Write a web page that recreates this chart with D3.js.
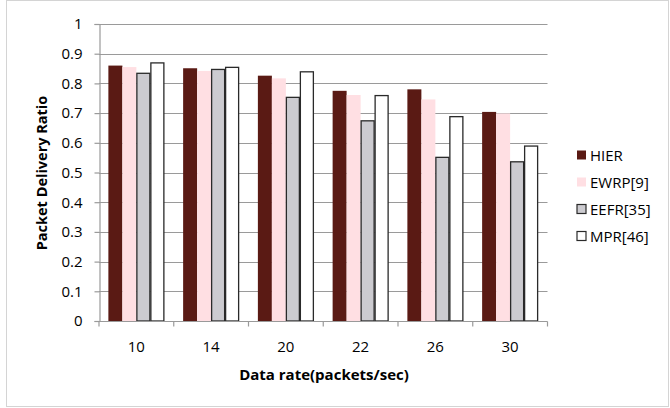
<!DOCTYPE html>
<html>
<head>
<meta charset="utf-8">
<script src="https://cdn.jsdelivr.net/npm/d3@7"></script>
<style>
  html, body { margin: 0; padding: 0; background: #fff; }
  svg { display: block; font-family: "Open Sans", sans-serif; }
</style>
</head>
<body>
<svg id="chart" width="670" height="408"></svg>
<script>
// Data rates on the x axis
const categories = ["10", "14", "20", "22", "26", "30"];
// Protocol names in legend order
const seriesNames = ["HIER", "EWRP[9]", "EEFR[35]", "MPR[46]"];
// Packet delivery ratio per protocol
const hier = [0.860, 0.851, 0.826, 0.775, 0.780, 0.704];
const ewrp = [0.855, 0.842, 0.817, 0.761, 0.746, 0.699];
const eefr = [0.834, 0.847, 0.753, 0.674, 0.551, 0.536];
const mpr  = [0.869, 0.854, 0.839, 0.759, 0.688, 0.589];
const yTicks = [0, 0.1, 0.2, 0.3, 0.4, 0.5, 0.6, 0.7, 0.8, 0.9, 1];

const seriesValues = [hier, ewrp, eefr, mpr];
const fills = ["#5a1a14", "#ffdfe3", "#cccbd0", "#ffffff"];
const strokes = ["none", "none", "#2a2a2a", "#2a2a2a"];

const svg = d3.select("#chart");

// outer chart frame
svg.append("rect")
  .attr("x", 6.5).attr("y", 0.5).attr("width", 662).attr("height", 406)
  .attr("fill", "none").attr("stroke", "#d4d4d4");

const plot = { left: 99, right: 547.5, top: 24, bottom: 321 };

const x = d3.scaleBand().domain(categories).range([plot.left, plot.right])
  .paddingInner(0).paddingOuter(0);
const xi = d3.scaleBand().domain(seriesNames).range([0, x.bandwidth()])
  .paddingInner(0).paddingOuter(0.67);
const y = d3.scaleLinear().domain([0, 1]).range([plot.bottom, plot.top]);

// horizontal gridlines
svg.append("g").selectAll("line").data(yTicks.slice(1)).join("line")
  .attr("x1", plot.left).attr("x2", plot.right)
  .attr("y1", d => Math.round(y(d)) + 0.5).attr("y2", d => Math.round(y(d)) + 0.5)
  .attr("stroke", "#9a9a9a").attr("stroke-width", 1.2);

// bars
const groups = svg.append("g").selectAll("g").data(categories).join("g")
  .attr("transform", c => `translate(${x(c)},0)`);
groups.selectAll("rect")
  .data((c, i) => seriesNames.map((s, k) => ({ s, k, v: seriesValues[k][i] })))
  .join("rect")
  .attr("x", d => xi(d.s) + (d.k >= 2 ? 0.5 : 0))
  .attr("width", d => xi.bandwidth() - (d.k >= 2 ? 1 : 0))
  .attr("y", d => y(d.v))
  .attr("height", d => plot.bottom - y(d.v))
  .attr("fill", d => fills[d.k])
  .attr("stroke", d => strokes[d.k])
  .attr("stroke-width", 1.3);

// y axis
const yAxis = d3.axisLeft(y).tickValues(yTicks).tickSize(5).tickPadding(12)
  .tickFormat(d => d3.format("")(+d.toFixed(1)));
const gy = svg.append("g").attr("transform", `translate(${plot.left + 0.5},0)`).call(yAxis);
gy.select(".domain").attr("stroke", "#9a9a9a").attr("stroke-width", 1.2);
gy.selectAll(".tick line").attr("stroke", "#9a9a9a").attr("stroke-width", 1.2);
gy.selectAll(".tick text").attr("font-size", 15).attr("fill", "#000")
  .style("font-family", "'Open Sans', sans-serif");

// x axis: ticks sit on the category boundaries
const gx = svg.append("g").attr("transform", `translate(0,${plot.bottom + 0.5})`);
gx.append("line").attr("x1", plot.left).attr("x2", plot.right)
  .attr("stroke", "#9a9a9a").attr("stroke-width", 1.2);
const bounds = categories.map(c => x(c)).concat([x(categories[categories.length - 1]) + x.bandwidth()]);
gx.selectAll("line.tk").data(bounds).join("line").attr("class", "tk")
  .attr("x1", d => d).attr("x2", d => d).attr("y1", 0).attr("y2", 5)
  .attr("stroke", "#9a9a9a").attr("stroke-width", 1.2);
gx.selectAll("text").data(categories).join("text")
  .attr("x", c => x(c) + x.bandwidth() / 2).attr("y", 30.5)
  .attr("text-anchor", "middle").attr("font-size", 15).attr("fill", "#000")
  .text(c => c);

// axis titles
svg.append("text")
  .attr("transform", "translate(46.5,173) rotate(-90)")
  .attr("text-anchor", "middle").attr("font-size", 14.5).attr("font-weight", "bold")
  .text("Packet Delivery Ratio");
svg.append("text")
  .attr("x", 324).attr("y", 380)
  .attr("text-anchor", "middle").attr("font-size", 15).attr("font-weight", "bold")
  .text("Data rate(packets/sec)");

// legend
const legend = svg.append("g").attr("transform", "translate(577,155)");
const li = legend.selectAll("g").data(seriesNames).join("g")
  .attr("transform", (d, i) => `translate(0,${i * 27})`);
li.append("rect")
  .attr("x", 0).attr("y", -4.5).attr("width", 9).attr("height", 9)
  .attr("fill", (d, i) => fills[i])
  .attr("stroke", (d, i) => strokes[i]).attr("stroke-width", 1.2);
li.append("text")
  .attr("x", 13).attr("y", 5.5).attr("font-size", 15).attr("fill", "#000")
  .text(d => d);
</script>
</body>
</html>
